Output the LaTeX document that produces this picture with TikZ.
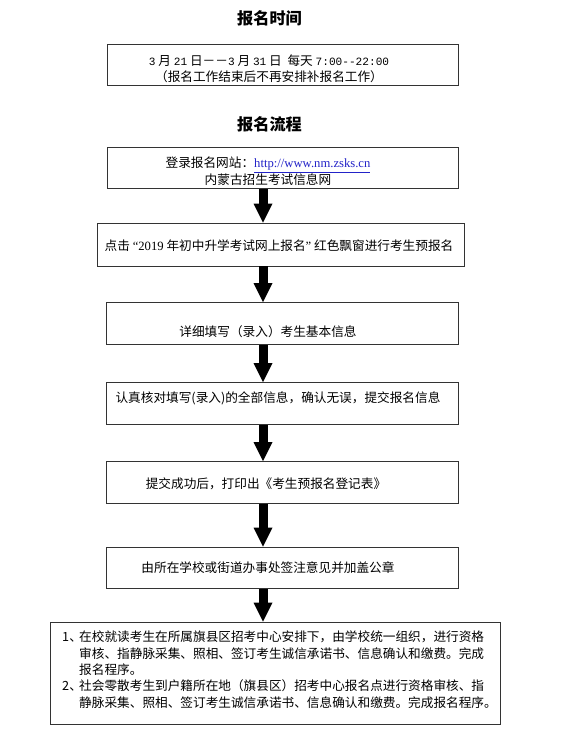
\documentclass[tikz,border=0pt]{standalone}
\usepackage{fontspec}
\setmainfont{Noto Sans CJK SC}
\newfontfamily\timesfont{Liberation Serif}
\newfontfamily\monofont{Liberation Mono}
\usetikzlibrary{arrows.meta, positioning}
\definecolor{linkblue}{HTML}{2323C8}
\definecolor{boxline}{HTML}{333333}
\newcommand{\mononum}[1]{{\monofont\fontsize{9.5}{13}\selectfont #1}}
\newcommand{\itemno}[1]{\makebox[0.51cm][l]{#1}}

\begin{document}
\begin{tikzpicture}[
    x=0.03cm, y=-0.03cm,
    title/.style={font=\fontsize{13.8}{16}\selectfont\bfseries, inner sep=0pt},
    stepbox/.style={draw=boxline, line width=0.8pt, minimum width=10.55cm, minimum height=1.25cm, inner sep=0pt},
    steptext/.style={font=\fontsize{10.8}{14}\selectfont, align=center, inner sep=0pt},
    bigarrow/.style={line width=0.27cm, -{Triangle[width=0.57cm, length=0.57cm, line width=0pt]}}
]
\path[use as bounding box, fill=white] (0,0) rectangle (581,729);

% Titles
\node[title] (time) at (269.5,18.5) {报名时间};
\node[title] (flow) at (269.5,124.5) {报名流程};

% Boxes
\node[stepbox] (b1) at (283,65) {};
\node[stepbox] (b2) at (283,168) {};
\node[stepbox, minimum width=11.01cm, minimum height=1.29cm] (b3) at (280.5,244.5) {};
\node[stepbox] (b4) at (282.5,323.5) {};
\node[stepbox] (b5) at (282.5,403.5) {};
\node[stepbox] (b6) at (282.5,482.5) {};
\node[stepbox] (b7) at (282.5,568) {};
\node[stepbox, minimum width=13.5cm, minimum height=3.06cm] (b8) at (275,673) {};

% Texts
\node[steptext] (t1) at (269,69) {\mononum{3} 月 \mononum{21} 日－－\mononum{3} 月 \mononum{31} 日 \ 每天 \mononum{7:00-{}-22:00}\\（报名工作结束后不再安排补报名工作）};
\node[steptext] (t2) at (268,171) {登录报名网站：{\timesfont\color{linkblue}\underline{http://www.nm.zsks.cn}}\\内蒙古招生考试信息网};
\node[steptext] (t3) at (279,246) {点击 {\timesfont “2019} 年初中升学考试网上报名{\timesfont ”} 红色飘窗进行考生预报名};
\node[steptext] (t4) at (268,332) {详细填写（录入）考生基本信息};
\node[steptext] (t5) at (278,398) {认真核对填写(录入)的全部信息，确认无误，提交报名信息};
\node[steptext] (t6) at (266,484) {提交成功后，打印出《考生预报名登记表》};
\node[steptext] (t7) at (268,568) {由所在学校或街道办事处签注意见并加盖公章};
\node[steptext, align=left, anchor=north west, font=\fontsize{10.8}{13.9}\selectfont] (t8) at (62,631) {\itemno{1、}在校就读考生在所属旗县区招考中心安排下，由学校统一组织，进行资格\\
\hspace*{0.51cm}审核、指静脉采集、照相、签订考生诚信承诺书、信息确认和缴费。完成\\
\hspace*{0.51cm}报名程序。\\
\itemno{2、}社会零散考生到户籍所在地（旗县区）招考中心报名点进行资格审核、指\\
\hspace*{0.51cm}静脉采集、照相、签订考生诚信承诺书、信息确认和缴费。完成报名程序。};

% Arrows
\coordinate (col) at (263,0);
\draw[bigarrow] (b2.south -| col) -- (b3.north -| col);
\draw[bigarrow] (b3.south -| col) -- (b4.north -| col);
\draw[bigarrow] (b4.south -| col) -- (b5.north -| col);
\draw[bigarrow] (b5.south -| col) -- (b6.north -| col);
\draw[bigarrow] (b6.south -| col) -- (b7.north -| col);
\draw[bigarrow] (b7.south -| col) -- (b8.north -| col);

\end{tikzpicture}
\end{document}
